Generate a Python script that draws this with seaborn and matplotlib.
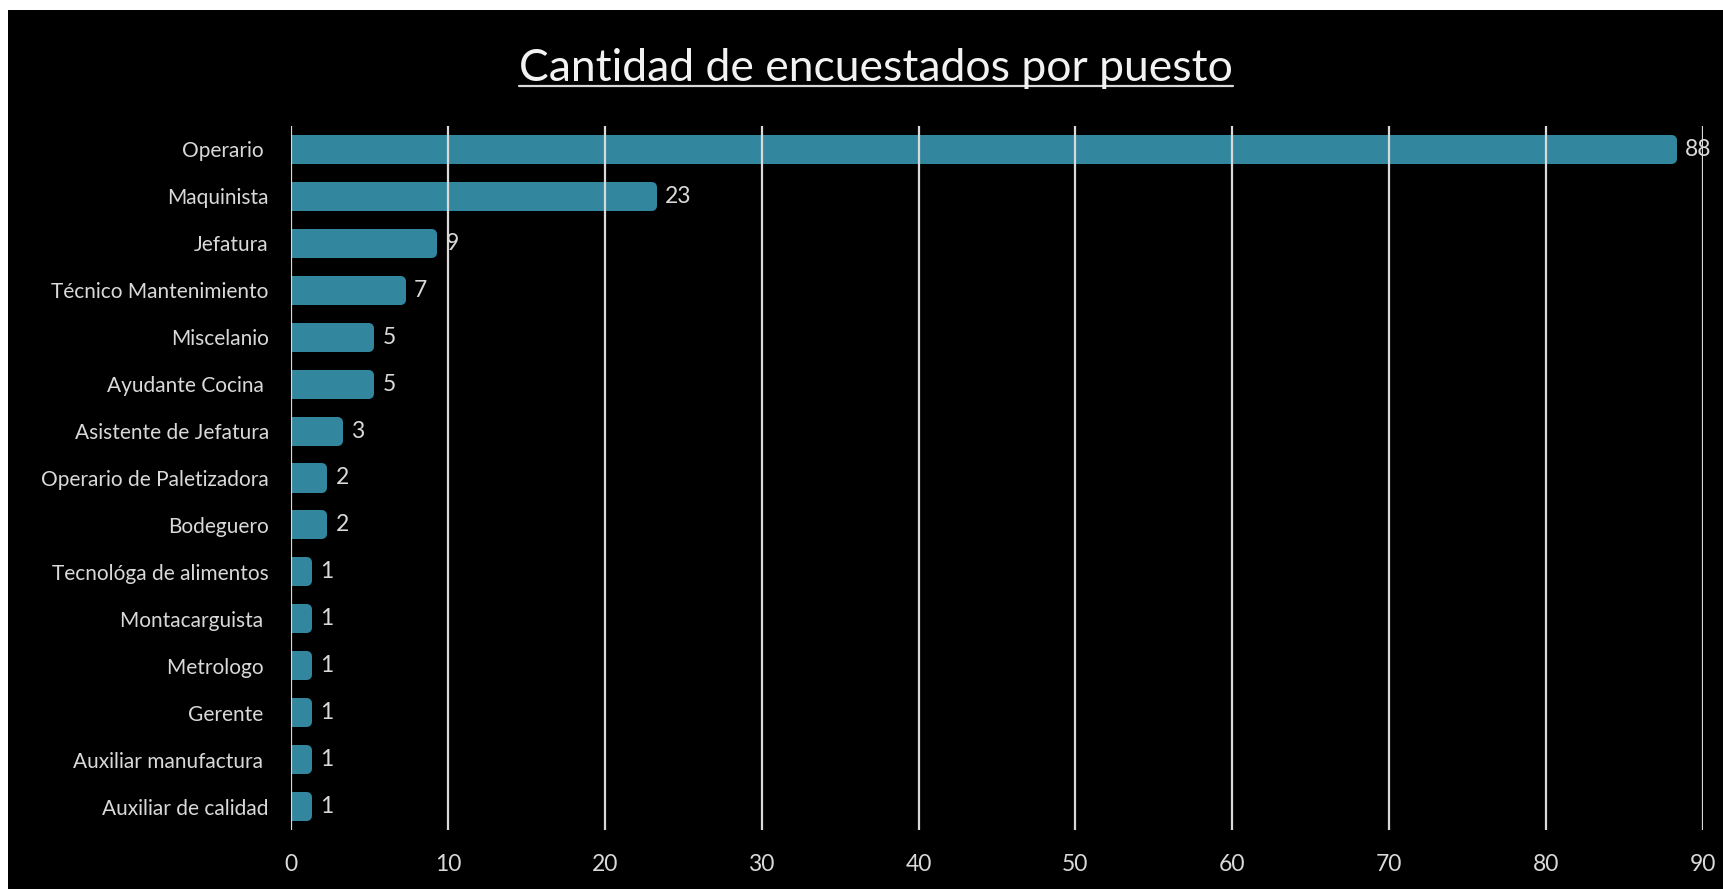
import matplotlib
matplotlib.use("Agg")
import matplotlib.pyplot as plt
import seaborn as sns
import pandas as pd
from matplotlib.patches import Rectangle
from matplotlib.lines import Line2D

categories = ["Operario ", "Maquinista", "Jefatura", "Técnico Mantenimiento",
              "Miscelanio", "Ayudante Cocina ", "Asistente de Jefatura",
              "Operario de Paletizadora", "Bodeguero", "Tecnológa de alimentos",
              "Montacarguista ", "Metrologo ", "Gerente ", "Auxiliar manufactura ",
              "Auxiliar de calidad"]
counts = [88, 23, 9, 7, 5, 5, 3, 2, 2, 1, 1, 1, 1, 1, 1]
x_ticks = [0, 10, 20, 30, 40, 50, 60, 70, 80, 90]
title = "Cantidad de encuestados por puesto"

df = pd.DataFrame({"puesto": categories, "cantidad": counts})

sns.set_theme(style="dark")
plt.rcParams['font.family'] = ['Lato', 'DejaVu Sans']

W, H = 1724, 889
fig = plt.figure(figsize=(W / 100, H / 100), dpi=100, facecolor="white")
# black panel (white strip at top and left as in reference)
bg = Rectangle((8 / W, 0), 1 - 8 / W, 1 - 10 / H, transform=fig.transFigure,
               facecolor="black", edgecolor="none", zorder=-10)
fig.patches.append(bg)

ax = fig.add_axes([291 / W, 1 - 830 / H, (1703 - 291) / W, (830 - 126) / H])
ax.set_facecolor("none")
ax.set_zorder(1)

bar_color = "#32869E"
sns.barplot(data=df, x="cantidad", y="puesto", order=categories, orient="h",
            color=bar_color, saturation=1, width=0.405, ax=ax, zorder=2)
for p in ax.patches:
    p.set_edgecolor(bar_color)
    p.set_linewidth(7.2)
    p.set_joinstyle("round")

ax.set_xlim(0, 90)
ax.set_ylim(len(categories) - 0.5, -0.5)
ax.set_xticks(x_ticks)
ax.grid(False)
for xv in x_ticks:
    ax.axvline(xv, color="#d9d9d9", lw=1.6, zorder=3)

for s in ax.spines.values():
    s.set_visible(False)

ax.set_xlabel("")
ax.set_ylabel("")
ax.tick_params(axis="x", length=0, pad=17, labelsize=16.5, labelcolor="#d9d9d9")
ax.tick_params(axis="y", length=0, pad=16, labelsize=15, labelcolor="#d9d9d9")

for i, v in enumerate(counts):
    ax.annotate(str(v), xy=(v, i), xytext=(9.5, 0), textcoords="offset points",
                ha="left", va="center", fontsize=16.5, color="#d9d9d9", zorder=4)

t = fig.text(876 / W, 1 - 81 / H, title, ha="center", va="baseline",
             fontsize=32, color="#f2f2f2", zorder=5)
fig.canvas.draw()
bb = t.get_window_extent()
uy = 1 - 86 / H
fig.lines.append(Line2D([bb.x0 / W, bb.x1 / W], [uy, uy], transform=fig.transFigure,
                        color="#d9d9d9", lw=1.6, zorder=5))

fig.savefig("out.png", dpi=100, facecolor=fig.get_facecolor())
